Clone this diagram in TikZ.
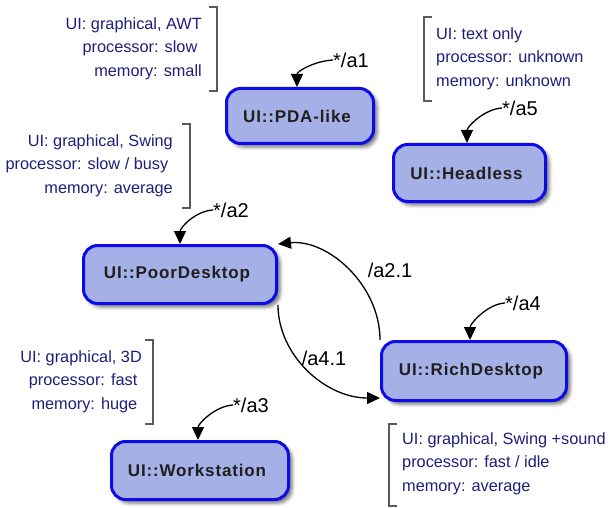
\documentclass[tikz,border=0pt]{standalone}
\usepackage{fontspec}
\setmainfont{Liberation Sans}
\newfontfamily\boxfont{Liberation Sans}[LetterSpace=5]
\usetikzlibrary{arrows.meta,shadows.blur,calc}
\definecolor{boxfill}{RGB}{164,176,230}
\definecolor{boxdraw}{RGB}{12,12,230}
\definecolor{notetext}{RGB}{30,30,125}
\definecolor{brk}{RGB}{90,90,90}
\begin{document}
\begin{tikzpicture}[x=1pt,y=-1pt,
  state/.style={draw=boxdraw, line width=3pt, fill=boxfill, rounded corners=14pt, inner sep=0pt,
    font=\boxfont\bfseries\fontsize{17}{20}\selectfont, text=black!88,
    blur shadow={shadow xshift=3.5pt, shadow yshift=-3.5pt, shadow blur radius=3.5pt, shadow opacity=55}},
  note/.style={inner sep=0pt, text=notetext, font=\fontsize{16.3}{23.5}\selectfont},
  lbl/.style={inner sep=0pt, font=\fontsize{20}{24}\selectfont},
  trans/.style={line width=1.3pt, -{Triangle[length=13pt,width=12pt]}},
  brack/.style={draw=brk, line width=1.3pt}]
\useasboundingbox (0,0) rectangle (608,508);

% states
\node[state, minimum width=147pt, minimum height=55pt] (pda) at (300,116) {UI::PDA-like\kern6pt};
\node[state, minimum width=152pt, minimum height=57pt] (headless) at (469.5,173) {UI::Headless\kern6pt};
\node[state, minimum width=193pt, minimum height=58pt] (poor) at (180,274.5) {UI::PoorDesktop\kern6pt};
\node[state, minimum width=185pt, minimum height=59pt] (rich) at (474,371) {UI::RichDesktop\kern6pt};
\node[state, minimum width=177pt, minimum height=58pt] (work) at (200,470.5) {UI::Workstation\kern6pt};

% initial labels and arrows
\node[lbl, anchor=west] (la1) at (333,60) {*/a1};
\node[lbl, anchor=west] (la5) at (502,108) {*/a5};
\node[lbl, anchor=west] (la2) at (213,210) {*/a2};
\node[lbl, anchor=west] (la4) at (505,303) {*/a4};
\node[lbl, anchor=west] (la3) at (233,405) {*/a3};

\draw[trans] (la1.west) .. controls +(-18,1) and +(0,-16) .. ($(pda.north)+(-3,0)$);
\draw[trans] (la5.west) .. controls +(-18,1) and +(0,-16) .. ($(headless.north)+(-2.5,0)$);
\draw[trans] (la2.west) .. controls +(-18,1) and +(0,-16) .. (poor.north);
\draw[trans] (la4.west) .. controls +(-18,1) and +(0,-16) .. ($(rich.north)+(-4,0)$);
\draw[trans] (la3.west) .. controls +(-18,1) and +(0,-16) .. ($(work.north)+(-2,0)$);

% transitions
\draw[trans] (rich.north west) .. controls +(0,-55) and +(50,-5) .. (poor.north east);
\draw[trans] (poor.south east) .. controls +(0,50) and +(-55,0) .. ($(rich.south west)+(0,-4)$);
\node[lbl] (t21) at (390,270) {/a2.1};
\node[lbl] (t41) at (324,358) {/a4.1};

% notes
\node[note, align=right, anchor=north east] (n1) at (202,17) {UI: graphical, AWT\\processor: slow\kern4.5pt\\memory: small};
\node[note, align=right, anchor=north east] (n2) at (173,134) {UI: graphical, Swing\\processor: slow / busy\kern4.5pt\\memory: average};
\node[note, align=right, anchor=north east] (n3) at (142,350) {UI: graphical, 3D\\processor: fast\kern4.5pt\\memory: huge\kern4.5pt};
\node[note, align=left, anchor=north west] (n5) at (436,27) {UI: text only\\processor: unknown\\memory: unknown};
\node[note, align=left, anchor=north west] (n4) at (402,432) {UI: graphical, Swing +sound\\processor: fast / idle\\memory: average};

% brackets
\draw[brack] (209,7) -- (217,7) -- (217,91) -- (209,91);
\draw[brack] (182,124) -- (190,124) -- (190,208) -- (182,208);
\draw[brack] (145,340) -- (153,340) -- (153,424) -- (145,424);
\draw[brack] (432,17) -- (424,17) -- (424,101) -- (432,101);
\draw[brack] (397,424) -- (389,424) -- (389,506) -- (397,506);
\end{tikzpicture}
\end{document}
